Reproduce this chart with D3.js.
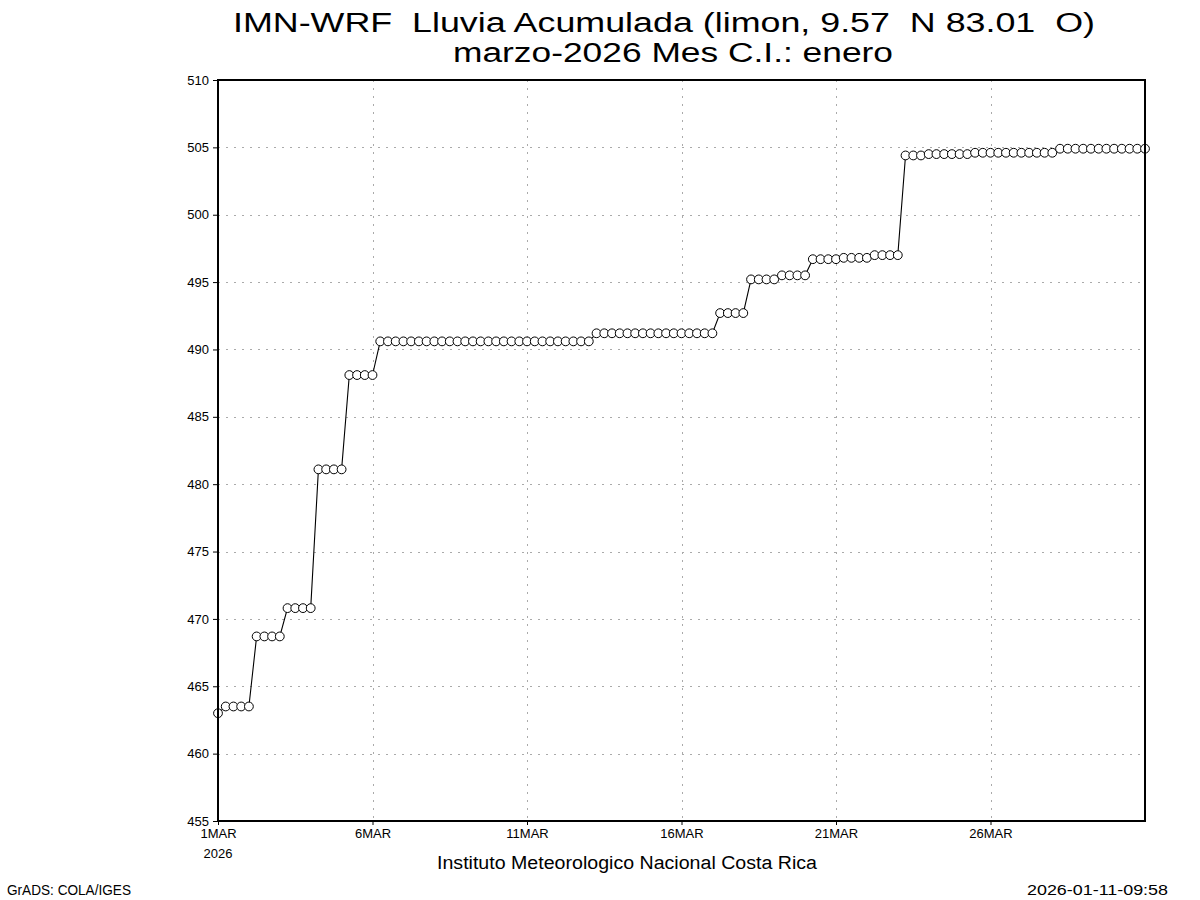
<!DOCTYPE html>
<html>
<head>
<meta charset="utf-8">
<script src="https://cdn.jsdelivr.net/npm/d3@7"></script>
<style>
  html, body { margin: 0; padding: 0; background: #fff; }
  svg { display: block; }
  text { font-family: "Liberation Sans", Arial, sans-serif; fill: #000; white-space: pre; }
</style>
</head>
<body>
<svg id="chart" width="1200" height="900"></svg>
<script>
// ---- data ----
const titleLine1 = "IMN-WRF  Lluvia Acumulada (limon, 9.57  N 83.01  O)";
const titleLine2 = "marzo-2026 Mes C.I.: enero";
const footerCenter = "Instituto Meteorologico Nacional Costa Rica";
const footerLeft = "GrADS: COLA/IGES";
const footerRight = "2026-01-11-09:58";

const startTime = "2026-03-01T00:00:00Z";
const endTime = "2026-03-31T00:00:00Z";
const stepHours = 6;

// accumulated rainfall (mm), one value every 6 hours from 1MAR 00Z
const rainAcc = [
  463.0,
  463.5, 463.5, 463.5, 463.5,
  468.7, 468.7, 468.7, 468.7,
  470.8, 470.8, 470.8, 470.8,
  481.1, 481.1, 481.1, 481.1,
  488.1, 488.1, 488.1, 488.1,
  490.6, 490.6, 490.6, 490.6, 490.6, 490.6, 490.6, 490.6,
  490.6, 490.6, 490.6, 490.6, 490.6, 490.6, 490.6, 490.6,
  490.6, 490.6, 490.6, 490.6, 490.6, 490.6, 490.6, 490.6,
  490.6, 490.6, 490.6, 490.6,
  491.2, 491.2, 491.2, 491.2, 491.2, 491.2, 491.2, 491.2,
  491.2, 491.2, 491.2, 491.2, 491.2, 491.2, 491.2, 491.2,
  492.7, 492.7, 492.7, 492.7,
  495.2, 495.2, 495.2, 495.2,
  495.5, 495.5, 495.5, 495.5,
  496.7, 496.7, 496.7, 496.7,
  496.8, 496.8, 496.8, 496.8,
  497.0, 497.0, 497.0, 497.0,
  504.4, 504.4, 504.4,
  504.5, 504.5, 504.5, 504.5, 504.5, 504.5,
  504.6, 504.6, 504.6, 504.6, 504.6, 504.6, 504.6, 504.6, 504.6, 504.6, 504.6,
  504.9, 504.9, 504.9, 504.9, 504.9, 504.9, 504.9, 504.9, 504.9, 504.9, 504.9, 504.9
];

const yTicks = [455, 460, 465, 470, 475, 480, 485, 490, 495, 500, 505, 510];
const xTickDates = ["2026-03-01", "2026-03-06", "2026-03-11", "2026-03-16", "2026-03-21", "2026-03-26"];
const xTickLabels = ["1MAR", "6MAR", "11MAR", "16MAR", "21MAR", "26MAR"];
const xYearLabel = "2026";
const yDomain = [455, 510];

// ---- layout ----
const plot = { left: 218, right: 1145, top: 80, bottom: 821 };

const svg = d3.select("#chart");

const t0 = new Date(startTime);
const points = rainAcc.map((v, i) => ({
  t: new Date(t0.getTime() + i * stepHours * 3600 * 1000),
  v: v
}));

const x = d3.scaleUtc()
  .domain([t0, new Date(endTime)])
  .range([plot.left, plot.right]);

const y = d3.scaleLinear()
  .domain(yDomain)
  .range([plot.bottom, plot.top]);

const xTicks = xTickDates.map(d => new Date(d + "T00:00:00Z"));

// grid
const grid = svg.append("g");
grid.selectAll("line.hg")
  .data(yTicks)
  .join("line")
  .attr("x1", plot.left).attr("x2", plot.right)
  .attr("y1", d => Math.round(y(d)) + 0.5).attr("y2", d => Math.round(y(d)) + 0.5)
  .attr("stroke", "#aaaaaa").attr("stroke-width", 1)
  .attr("stroke-dasharray", "2,6");
grid.selectAll("line.vg")
  .data(xTicks.slice(1))
  .join("line")
  .attr("x1", d => Math.round(x(d)) + 0.5).attr("x2", d => Math.round(x(d)) + 0.5)
  .attr("y1", plot.top).attr("y2", plot.bottom)
  .attr("stroke", "#aaaaaa").attr("stroke-width", 1)
  .attr("stroke-dasharray", "2,6");

// line
const line = d3.line().x(d => x(d.t)).y(d => y(d.v));
svg.append("path")
  .datum(points)
  .attr("d", line)
  .attr("fill", "none")
  .attr("stroke", "#000")
  .attr("stroke-width", 1.1);

// markers
svg.append("g")
  .selectAll("circle")
  .data(points)
  .join("circle")
  .attr("cx", d => x(d.t))
  .attr("cy", d => y(d.v))
  .attr("r", 4.4)
  .attr("fill", "#fff")
  .attr("stroke", "#000")
  .attr("stroke-width", 1);

// frame
svg.append("rect")
  .attr("x", plot.left).attr("y", plot.top)
  .attr("width", plot.right - plot.left)
  .attr("height", plot.bottom - plot.top)
  .attr("fill", "none")
  .attr("stroke", "#000")
  .attr("stroke-width", 2);

// y axis
const yAxis = d3.axisLeft(y)
  .tickValues(yTicks)
  .tickSize(5)
  .tickPadding(4)
  .tickFormat(d3.format("d"));
const gy = svg.append("g")
  .attr("transform", `translate(${plot.left},0)`)
  .call(yAxis);
gy.select(".domain").remove();
gy.selectAll(".tick line").attr("stroke", "#000");
gy.selectAll(".tick text")
  .attr("font-size", 13)
  .attr("font-family", "Liberation Sans, Arial, sans-serif")
  .attr("fill", "#000");

// x axis
const xAxis = d3.axisBottom(x)
  .tickValues(xTicks)
  .tickSize(4)
  .tickPadding(4)
  .tickFormat((d, i) => xTickLabels[i]);
const gx = svg.append("g")
  .attr("transform", `translate(0,${plot.bottom})`)
  .call(xAxis);
gx.select(".domain").remove();
gx.selectAll(".tick line").attr("stroke", "#000");
gx.selectAll(".tick text")
  .attr("font-size", 13)
  .attr("font-family", "Liberation Sans, Arial, sans-serif")
  .attr("fill", "#000");

svg.append("text")
  .attr("x", x(xTicks[0]))
  .attr("y", 858)
  .attr("text-anchor", "middle")
  .attr("font-size", 13)
  .text(xYearLabel);

// titles
svg.append("text")
  .attr("x", 664).attr("y", 32)
  .attr("text-anchor", "middle")
  .attr("font-size", 27)
  .attr("textLength", 862)
  .attr("lengthAdjust", "spacingAndGlyphs")
  .text(titleLine1);
svg.append("text")
  .attr("x", 673).attr("y", 62)
  .attr("text-anchor", "middle")
  .attr("font-size", 27)
  .attr("textLength", 440)
  .attr("lengthAdjust", "spacingAndGlyphs")
  .text(titleLine2);

// footers
svg.append("text")
  .attr("x", 627).attr("y", 869)
  .attr("text-anchor", "middle")
  .attr("font-size", 18)
  .attr("textLength", 380)
  .attr("lengthAdjust", "spacingAndGlyphs")
  .text(footerCenter);
svg.append("text")
  .attr("x", 7).attr("y", 895)
  .attr("font-size", 14)
  .attr("textLength", 124)
  .attr("lengthAdjust", "spacingAndGlyphs")
  .text(footerLeft);
svg.append("text")
  .attr("x", 1168).attr("y", 895)
  .attr("text-anchor", "end")
  .attr("font-size", 14)
  .attr("textLength", 141)
  .attr("lengthAdjust", "spacingAndGlyphs")
  .text(footerRight);
</script>
</body>
</html>
